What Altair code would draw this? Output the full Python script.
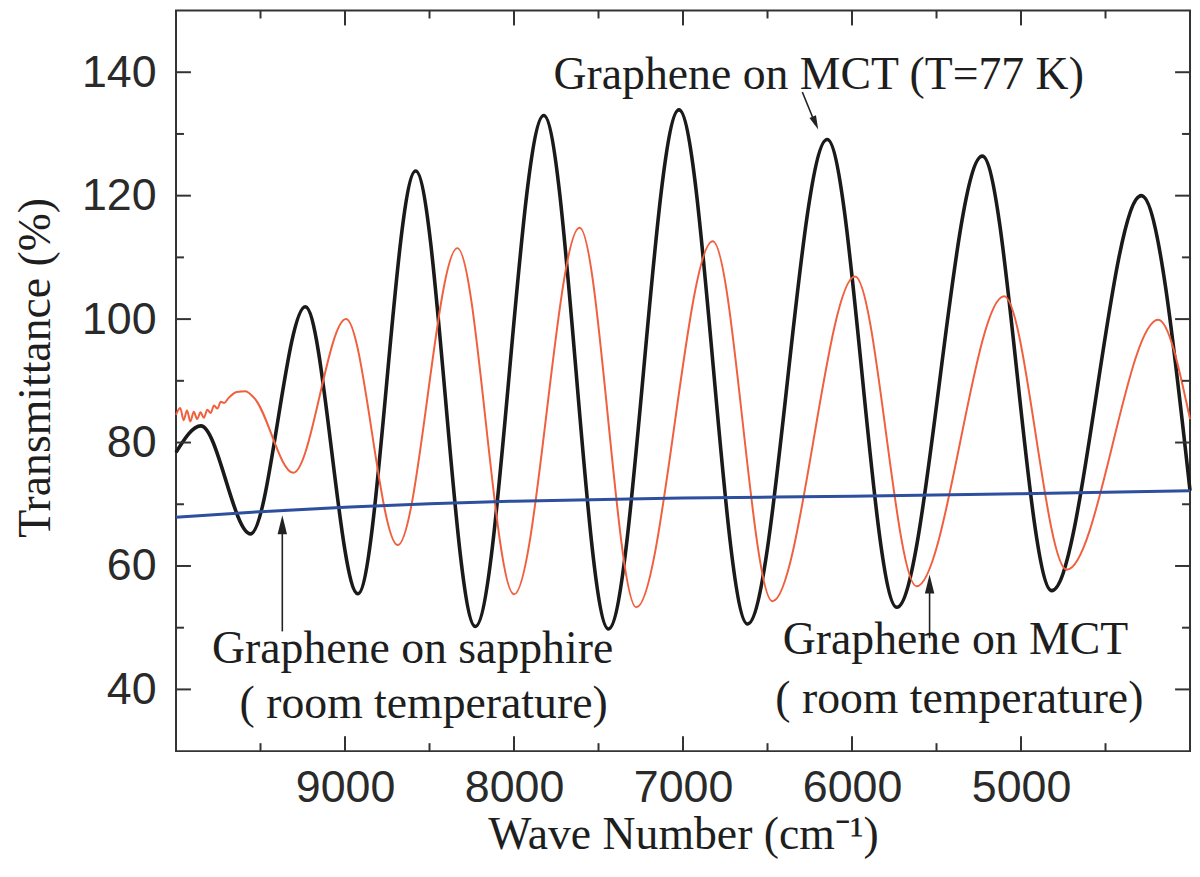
import altair as alt
import pandas as pd

# ---- data ----
black_wn = [10000, 9853, 9559, 9235, 8924, 8582, 8229, 7824, 7441, 7024, 6618, 6147, 5735, 5229, 4818, 4288, 4000]
black_T = [78.4, 82.7, 65.2, 102.0, 55.5, 124.0, 50.2, 133.0, 49.8, 133.9, 50.6, 129.1, 53.3, 126.4, 56.0, 120.0, 72.2]

red_wn = [10000, 9975, 9955, 9935, 9915, 9895, 9875, 9855, 9835, 9815, 9795, 9775, 9755, 9735, 9715, 9690,
          9640, 9590, 9540, 9306, 8994, 8688, 8335, 8000, 7612, 7276, 6824, 6471, 5982, 5618, 5100, 4729, 4188, 4000]
red_T = [84.5, 85.6, 83.6, 85.2, 83.4, 85.0, 83.8, 84.9, 84.0, 85.3, 84.8, 86.0, 85.5, 86.6, 86.4, 87.2,
         88.2, 88.3, 87.3, 75.1, 100.0, 63.4, 111.5, 55.4, 114.8, 53.3, 112.6, 54.3, 106.9, 56.7, 103.7, 59.4, 99.9, 83.8]

blue_wn = [10000, 9500, 9000, 8500, 8000, 7000, 6000, 5000, 4000]
blue_T = [67.9, 68.8, 69.5, 70.1, 70.5, 71.0, 71.3, 71.7, 72.2]

major_x = [9000, 8000, 7000, 6000, 5000]
minor_x = [9500, 8500, 7500, 6500, 5500, 4500]
major_y = [40, 60, 80, 100, 120, 140]
minor_y = [50, 70, 90, 110, 130]

ann_text = ["Graphene on MCT (T=77 K)", "Graphene on sapphire", "( room temperature)",
            "Graphene on MCT", "( room temperature)"]
ann_wn = [6197, 8600, 8535, 5388, 5365]
ann_T = [137.3, 44.3, 35.3, 45.7, 36.1]

arrow_wn1 = [9371, 5541, 6294]
arrow_T1 = [49.4, 48.3, 136.8]
arrow_wn2 = [9371, 5541, 6215]
arrow_T2 = [66.5, 57.0, 131.5]

head_wn = [9371, 5541, 6200]
head_T = [68.2, 58.6, 130.7]
head_angle = [0, 0, 157]
head_size = [361, 361, 200]

# ---- chart ----
W, H = 1020, 745
xs = alt.Scale(domain=[4000, 10000], reverse=True, nice=False, zero=False)
ys = alt.Scale(domain=[30, 150], nice=False, zero=False)

SANS = "Liberation Sans"
SERIF = "Liberation Serif"
TXT = "#1e1e1e"

xaxis = alt.Axis(values=major_x, format="d", ticks=False, tickSize=0, domain=False, grid=False,
                 labelFont=SANS, labelFontSize=45, labelColor="#2a2a2a", labelPadding=15,
                 title="Wave Number (cm\u207b\u00b9)", titleFont=SERIF, titleFontSize=46,
                 titleFontWeight="normal", titleColor=TXT, titleY=98, titleBaseline="alphabetic")
yaxis = alt.Axis(values=major_y, format="d", ticks=False, tickSize=0, domain=False, grid=False,
                 labelFont=SANS, labelFontSize=45, labelColor="#2a2a2a", labelPadding=20,
                 title="Transmittance (%)", titleFont=SERIF, titleFontSize=46, titleFontWeight="normal",
                 titleColor=TXT, titleX=-127, titleY=359, titleAngle=270, titleBaseline="alphabetic",
                 titleAlign="center")


def X(field="wn"):
    return alt.X(f"{field}:Q", scale=xs, axis=xaxis)


def Y(field="T"):
    return alt.Y(f"{field}:Q", scale=ys, axis=yaxis)


black = alt.Chart(pd.DataFrame({"wn": black_wn, "T": black_T})).mark_line(
    color="#1a1a1a", strokeWidth=3.6, interpolate="monotone").encode(x=X(), y=Y())
red = alt.Chart(pd.DataFrame({"wn": red_wn, "T": red_T})).mark_line(
    color="#f0603f", strokeWidth=2, interpolate="monotone").encode(x=X(), y=Y())
blue = alt.Chart(pd.DataFrame({"wn": blue_wn, "T": blue_T})).mark_line(
    color="#2d4f9e", strokeWidth=3, interpolate="monotone").encode(x=X(), y=Y())

TICK = dict(color="#333333", strokeWidth=2)
mx = pd.DataFrame({"wn": major_x})
nx = pd.DataFrame({"wn": minor_x})
my = pd.DataFrame({"T": major_y})
ny = pd.DataFrame({"T": minor_y})
ticks = [
    alt.Chart(mx).mark_rule(**TICK).encode(x=X(), y=alt.value(H), y2=alt.value(H - 15)),
    alt.Chart(mx).mark_rule(**TICK).encode(x=X(), y=alt.value(0), y2=alt.value(15)),
    alt.Chart(nx).mark_rule(**TICK).encode(x=X(), y=alt.value(H), y2=alt.value(H - 8)),
    alt.Chart(nx).mark_rule(**TICK).encode(x=X(), y=alt.value(0), y2=alt.value(8)),
    alt.Chart(my).mark_rule(**TICK).encode(y=Y(), x=alt.value(0), x2=alt.value(15)),
    alt.Chart(my).mark_rule(**TICK).encode(y=Y(), x=alt.value(W), x2=alt.value(W - 15)),
    alt.Chart(ny).mark_rule(**TICK).encode(y=Y(), x=alt.value(0), x2=alt.value(8)),
    alt.Chart(ny).mark_rule(**TICK).encode(y=Y(), x=alt.value(W), x2=alt.value(W - 8)),
]

arrows = alt.Chart(pd.DataFrame({"wn1": arrow_wn1, "T1": arrow_T1, "wn2": arrow_wn2, "T2": arrow_T2})).mark_rule(
    color="#222222", strokeWidth=1.6).encode(
    x=X("wn1"), y=Y("T1"), x2="wn2:Q", y2="T2:Q")
heads = alt.Chart(pd.DataFrame({"wn": head_wn, "T": head_T, "a": head_angle, "s": head_size})).mark_point(
    shape="M0,0L0.5,2L-0.5,2Z", filled=True, color="#222222", opacity=1, strokeWidth=0).encode(
    x=X(), y=Y(), angle=alt.Angle("a:Q", scale=None), size=alt.Size("s:Q", scale=None, legend=None))

texts = alt.Chart(pd.DataFrame({"t": ann_text, "wn": ann_wn, "T": ann_T})).mark_text(
    font=SERIF, fontSize=46, color=TXT, align="center", baseline="alphabetic").encode(
    x=X(), y=Y(), text="t:N")

chart = alt.layer(black, red, blue, *ticks, arrows, heads, texts).properties(
    width=W, height=H,
    autosize=alt.AutoSizeParams(type="none"),
    padding={"left": 169, "top": 0, "right": 2, "bottom": 108},
).configure_view(stroke="#333333", strokeWidth=2)

chart.save("out.html", embed_options={"renderer": "svg", "actions": False})
